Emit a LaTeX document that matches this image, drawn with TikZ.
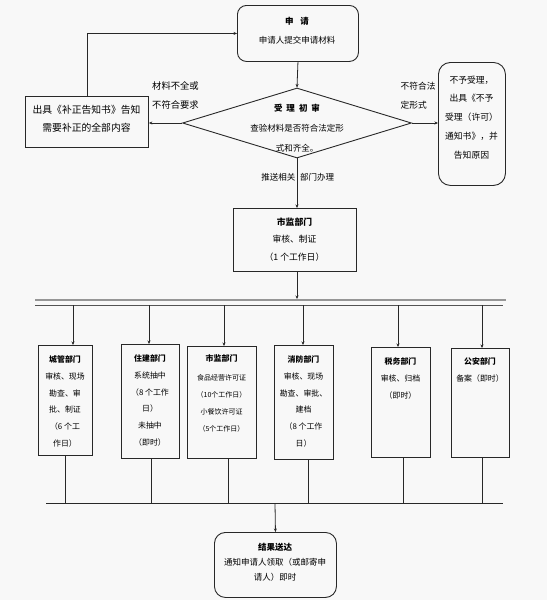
\documentclass[tikz,border=0pt]{standalone}
\usepackage{fontspec}
\newfontfamily\cjk{Noto Sans CJK SC}
\usetikzlibrary{shapes.geometric,arrows.meta}
\definecolor{bgc}{RGB}{248,248,248}
\definecolor{lnc}{RGB}{40,40,40}
\definecolor{barc}{RGB}{150,150,150}
\tikzset{
  box/.style={draw=lnc,line width=0.9pt,inner sep=0pt,anchor=north west},
  rbox/.style={box,rounded corners=9pt},
  txt/.style={inner sep=0pt,anchor=north,align=center,text=black},
  conn/.style={draw=lnc,line width=0.8pt},
  arr/.style={conn,-{Stealth[length=3.5pt,width=3pt]}},
  fs/.style 2 args={font={\cjk\fontsize{#1}{#2}\selectfont}}
}
\begin{document}
\begin{tikzpicture}[x=1pt,y=-1pt]
\useasboundingbox[fill=bgc] (0,0) rectangle (547,600);

% top box
\node[rbox,minimum width=121pt,minimum height=56pt] (apply) at (237,5) {};
\node[txt,fs={8.5}{19}] (applyt) at (297,17.5) {\textbf{申\hspace{7pt}请}\\申请人提交申请材料};

% diamond
\node[draw=lnc,line width=0.9pt,diamond,inner sep=0pt,minimum width=229pt,minimum height=70pt] (dia) at (297,123) {};
\node[txt,fs={8.5}{20}] (diat) at (297,103.5) {\textbf{受\hspace{4pt}理\hspace{4pt}初\hspace{4pt}审}\\查验材料是否符合法定形\\式和齐全。};

% left box
\node[box,minimum width=123pt,minimum height=51pt] (bz) at (25,96) {};
\node[txt,fs={9.8}{18}] (bzt) at (86.5,105) {出具《补正告知书》告知\\需要补正的全部内容};

% right box
\node[box,rounded corners=12pt,minimum width=67pt,minimum height=123pt] (rej) at (438,62) {};
\node[txt,fs={8.8}{18.8}] (rejt) at (471.5,75.5) {不予受理，\\出具《不予\\受理（许可）\\通知书》，并\\告知原因};

% labels
\node[txt,anchor=north west,align=left,fs={9.3}{19}] (lab1) at (152,81.5) {材料不全或\\不符合要求};
\node[txt,anchor=north west,align=left,fs={8.7}{19}] (lab2) at (400.5,81.5) {不符合法\\定形式};
\node[inner sep=0pt,anchor=east,fs={8.5}{10}] (lab3) at (295.5,177) {推送相关};
\node[inner sep=0pt,anchor=west,fs={8.5}{10}] (lab4) at (300,177) {部门办理};

% city supervision box
\node[box,minimum width=123pt,minimum height=63pt] (sj) at (233,208) {};
\node[txt,fs={8.8}{17.5}] (sjt) at (294.5,217.5) {\textbf{市监部门}\\审核、制证\\（1 个工作日）};

% bars
\coordinate (bar) at (297,299);
\draw[barc,line width=2.2pt] (35,300) -- (506,300);
\draw[lnc!80,line width=1pt] (35,305) -- (503,305);

% department boxes
\node[box,minimum width=54pt,minimum height=110pt] (b1) at (38,345) {};
\node[box,minimum width=58pt,minimum height=114pt] (b2) at (121,344) {};
\node[box,minimum width=69pt,minimum height=112pt] (b3) at (187,346) {};
\node[box,minimum width=59pt,minimum height=114pt] (b4) at (274,345) {};
\node[box,minimum width=59pt,minimum height=110pt] (b5) at (371,347) {};
\node[box,minimum width=58pt,minimum height=109pt] (b6) at (451,348) {};

\node[txt,fs={7.9}{16.8}] (b1t) at (65,355.5) {\textbf{城管部门}\\审核、现场\\勘查、审\\批、制证\\（6 个工\\作日）};
\node[txt,fs={7.9}{16.8}] (b2t) at (150,354.5) {\textbf{住建部门}\\系统抽中\\（8 个工作\\日）\\未抽中\\（即时）};
\node[txt,fs={7}{17}] (b3t) at (221.5,354.5) {{\fontsize{8}{17}\selectfont\textbf{市监部门}}\\[1.5pt]食品经营许可证\\（10个工作日）\\小餐饮许可证\\（5个工作日）};
\node[txt,fs={7.9}{16.8}] (b4t) at (303.5,355.5) {\textbf{消防部门}\\审核、现场\\勘查、审批、\\建档\\（8 个工作\\日）};
\node[txt,fs={7.9}{17}] (b5t) at (400.5,357.5) {\textbf{税务部门}\\审核、归档\\（即时）};
\node[txt,fs={7.9}{16.5}] (b6t) at (480,357.5) {\textbf{公安部门}\\备案（即时）};

% drops from bar
\foreach \n/\x in {b1/73,b2/149,b3/224,b4/303,b5/398,b6/482}{
  \coordinate (d\n) at (\x,305);
  \draw[arr] (d\n) -- (d\n |- \n.north);
}

% result box
\node[rbox,rounded corners=11pt,minimum width=122pt,minimum height=65pt] (res) at (214,532) {};
\node[txt,fs={8.5}{15}] (rest) at (275,542.5) {\textbf{结果送达}\\通知申请人领取（或邮寄申\\请人）即时};

% collectors
\coordinate (cl) at (46,503);
\coordinate (cr) at (503,503);
\coordinate (cm) at (275,503);
\draw[conn] (cl) -- (cr);
\foreach \n/\x in {b1/65,b2/151,b3/228,b4/308,b5/403,b6/482}{
  \coordinate (u\n) at (\x,503);
  \draw[conn] (\n.south -| u\n) -- (u\n);
}
\draw[arr] (cm) -- (res.north);

% top connectors
\draw[arr] (apply.south) -- (dia.north);
\draw[arr] (dia.west) -- (dia.west -| bz.east);
\draw[arr] (bz.north) |- (apply.west);
\draw[arr] (dia.east) -- (dia.east -| rej.west);
\draw[arr] (dia.south) -- (dia.south |- sj.north);
\draw[arr] (sj.south -| bar) -- (bar);
\end{tikzpicture}
\end{document}
